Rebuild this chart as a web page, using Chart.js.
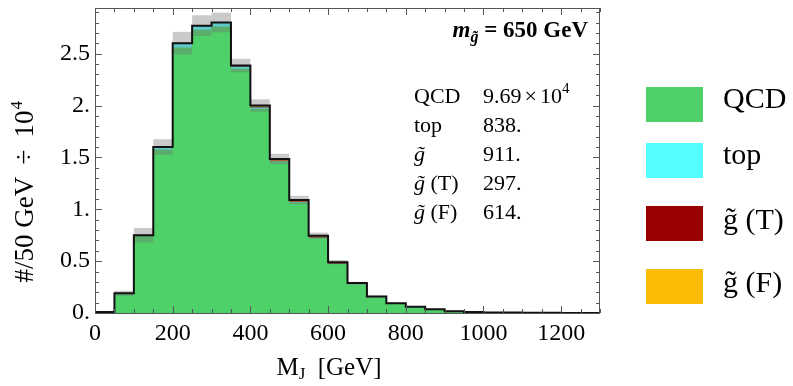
<!DOCTYPE html>
<html>
<head>
<meta charset="utf-8">
<script src="https://cdn.jsdelivr.net/npm/chart.js@4.4.0/dist/chart.umd.min.js"></script>
<style>
body { margin: 0; background: #fff; }
#caixa { width: 793px; height: 386px; }
</style>
</head>
<body>
<div id="caixa"><canvas id="grafico"></canvas></div>
<script>
// bins of 50 GeV in M_J (start of each bin)
const binStart = [0, 50, 100, 150, 200, 250, 300, 350, 400, 450, 500, 550, 600,
                  650, 700, 750, 800, 850, 900, 950, 1000, 1050, 1100, 1150, 1200, 1250];
const binWidth = 50;

// events / 50 GeV, in units of 10^4
const qcdValues = [0.010, 0.190, 0.738, 1.572, 2.555, 2.726, 2.758, 2.352, 1.966, 1.452, 1.060, 0.720, 0.469,
                   0.272, 0.148, 0.084, 0.054, 0.032, 0.016, 0.009, 0.006, 0.004, 0.003, 0.002, 0.001, 0.001];
const topValues = [0, 0, 0.012, 0.028, 0.045, 0.040, 0.035, 0.020, 0.012, 0.007, 0.005, 0.003, 0.002,
                   0.001, 0, 0, 0, 0, 0, 0, 0, 0, 0, 0, 0, 0];
const gluinoT = [0, 0, 0, 0, 0, 0.002, 0.003, 0.005, 0.007, 0.008, 0.008, 0.008, 0.007,
                 0.005, 0.004, 0.003, 0.002, 0.001, 0, 0, 0, 0, 0, 0, 0, 0];
const gluinoF = [0, 0, 0, 0, 0, 0.002, 0.004, 0.008, 0.015, 0.018, 0.017, 0.014, 0.012,
                 0.010, 0.008, 0.006, 0.004, 0.003, 0.002, 0.001, 0, 0, 0, 0, 0, 0];
// half width of the grey band
const errValues = [0.005, 0.025, 0.070, 0.075, 0.110, 0.100, 0.095, 0.065, 0.060, 0.050, 0.040, 0.030, 0.020,
                   0.012, 0.008, 0.006, 0.004, 0.003, 0.002, 0.001, 0.001, 0.001, 0.001, 0.001, 0.001, 0.001];

const seriesNames = ['QCD', 'top', 'g\u0303 (T)', 'g\u0303 (F)'];
const seriesColors = ['#4dd168', '#55ffff', '#990000', '#fbbc05'];

const xTicks = [0, 200, 400, 600, 800, 1000, 1200];
const yTicks = [0, 0.5, 1, 1.5, 2, 2.5];

const tableNames = ['QCD', 'top', 'g\u0303', 'g\u0303 (T)', 'g\u0303 (F)'];
const tableValues = ['9.69', '838.', '911.', '297.', '614.'];

const serif = '"Liberation Serif", "Times New Roman", serif';

const total = binStart.map((b, i) => qcdValues[i] + topValues[i] + gluinoT[i] + gluinoF[i]);

function barData(vals) {
    return binStart.map((b, i) => ({ x: b + binWidth / 2, y: vals[i] }));
}

const outline = binStart.map((b, i) => ({ x: b, y: total[i] }));
outline.push({ x: binStart[binStart.length - 1] + binWidth, y: total[total.length - 1] });

const band = binStart.map((b, i) => ({ x: b + binWidth / 2, y: [total[i] - errValues[i], total[i] + errValues[i]] }));

function txt(ctx, s, x, y, font) {
    ctx.font = font;
    ctx.fillText(s, x, y);
    return ctx.measureText(s).width;
}

const moldura = {
    id: 'moldura',
    afterDraw(chart) {
        const ctx = chart.ctx;
        const a = chart.chartArea;
        const xs = chart.scales.x;
        const ys = chart.scales.y;
        ctx.save();
        ctx.strokeStyle = '#555';
        ctx.lineWidth = 1;
        ctx.beginPath();
        for (let v = 0; v <= 1300; v += 50) {
            const px = Math.round(xs.getPixelForValue(v)) + 0.5;
            const len = v % 200 == 0 ? 7 : 4;
            ctx.moveTo(px, a.bottom); ctx.lineTo(px, a.bottom - len);
            ctx.moveTo(px, a.top); ctx.lineTo(px, a.top + len);
        }
        for (let i = 0; i <= 29; i++) {
            const py = Math.round(ys.getPixelForValue(i / 10)) + 0.5;
            const len = i % 5 == 0 ? 7 : 4;
            ctx.moveTo(a.left, py); ctx.lineTo(a.left + len, py);
            ctx.moveTo(a.right, py); ctx.lineTo(a.right - len, py);
        }
        ctx.stroke();
        ctx.strokeRect(Math.round(a.left) + 0.5, Math.round(a.top) + 0.5,
                       Math.round(a.right - a.left) - 1, Math.round(a.bottom - a.top));

        ctx.fillStyle = '#000';
        ctx.textAlign = 'left';
        ctx.textBaseline = 'alphabetic';

        // y title
        ctx.save();
        ctx.translate(33, 191);
        ctx.rotate(-Math.PI / 2);
        ctx.font = '27px ' + serif;
        const t1 = '#/50 GeV \u2009\u00f7\u2009 10';
        const w1 = ctx.measureText(t1).width;
        const x0 = -(w1 + 11) / 2;
        txt(ctx, t1, x0, 0, '27px ' + serif);
        txt(ctx, '4', x0 + w1 + 1, -11, '17px ' + serif);
        ctx.restore();

        // x title
        ctx.font = '25px ' + serif;
        let wM = ctx.measureText('M').width;
        ctx.font = '17px ' + serif;
        let wJ = ctx.measureText('J').width;
        ctx.font = '25px ' + serif;
        let wG = ctx.measureText('  [GeV]').width;
        let xx = 329 - (wM + wJ + wG) / 2;
        xx += txt(ctx, 'M', xx, 375, '25px ' + serif);
        xx += txt(ctx, 'J', xx, 379, '17px ' + serif);
        txt(ctx, '  [GeV]', xx, 375, '25px ' + serif);

        // mass label
        ctx.font = 'bold 23px ' + serif;
        const wEq = ctx.measureText(' = 650 GeV').width;
        ctx.font = 'italic bold 16px ' + serif;
        const wSub = ctx.measureText('g\u0303').width;
        ctx.font = 'italic bold 23px ' + serif;
        const wm = ctx.measureText('m').width;
        let mx = 588 - wEq - wSub - wm;
        mx += txt(ctx, 'm', mx, 37, 'italic bold 23px ' + serif);
        mx += txt(ctx, 'g\u0303', mx, 42, 'italic bold 16px ' + serif);
        txt(ctx, ' = 650 GeV', mx, 37, 'bold 23px ' + serif);

        // yields table
        for (let i = 0; i < tableNames.length; i++) {
            const by = 103 + 29 * i;
            const nm = tableNames[i];
            if (nm.startsWith('g')) {
                let gx = 414 + txt(ctx, 'g\u0303', 414, by, 'italic 22px ' + serif);
                txt(ctx, nm.slice(2), gx, by, '22px ' + serif);
            } else {
                txt(ctx, nm, 414, by, '22px ' + serif);
            }
            let vx = 483 + txt(ctx, tableValues[i], 483, by, '22px ' + serif);
            if (i == 0) {
                vx += txt(ctx, '\u00d7', vx + 3, by, '22px ' + serif) + 6;
                vx += txt(ctx, '10', vx, by, '22px ' + serif);
                txt(ctx, '4', vx, by - 10, '15px ' + serif);
            }
        }

        // legend
        const boxTop = [87, 143, 206, 269];
        const textBase = [108, 164, 229, 292];
        for (let i = 0; i < seriesNames.length; i++) {
            ctx.fillStyle = seriesColors[i];
            ctx.fillRect(646, boxTop[i], 57, 35);
            ctx.fillStyle = '#000';
            txt(ctx, seriesNames[i], 723, textBase[i], '30px ' + serif);
        }
        ctx.restore();
    }
};

const datasets = [];
const seriesVals = [qcdValues, topValues, gluinoT, gluinoF];
for (let i = 0; i < seriesVals.length; i++) {
    datasets.push({
        type: 'bar',
        label: seriesNames[i],
        data: barData(seriesVals[i]),
        backgroundColor: seriesColors[i],
        borderWidth: 0,
        stack: 'main',
        barPercentage: 1,
        categoryPercentage: 1
    });
}
datasets.push({
    type: 'bar',
    label: 'erro',
    data: band,
    backgroundColor: 'rgba(115,115,115,0.38)',
    borderWidth: 0,
    stack: 'erro',
    grouped: false,
    inflateAmount: 0,
    barPercentage: 1,
    categoryPercentage: 1,
    order: -1
});
datasets.push({
    type: 'line',
    label: 'total',
    data: outline,
    stepped: true,
    borderColor: '#111',
    borderWidth: 2,
    pointRadius: 0,
    fill: false,
    order: -2
});

new Chart(document.getElementById('grafico'), {
    data: { datasets: datasets },
    options: {
        responsive: true,
        maintainAspectRatio: false,
        animation: false,
        layout: { padding: { left: 0, right: 193, top: 8, bottom: 0 } },
        plugins: { legend: { display: false }, tooltip: { enabled: false } },
        scales: {
            x: {
                type: 'linear',
                min: 0,
                max: 1300,
                offset: false,
                grid: { display: false, drawTicks: false },
                border: { display: false },
                afterBuildTicks: (s) => { s.ticks = xTicks.map(v => ({ value: v })); },
                afterFit: (s) => { s.height = 73; s.paddingLeft = 0; s.paddingRight = 0; },
                ticks: { padding: 6, color: '#000', font: { family: serif, size: 24 }, maxRotation: 0,
                         callback: (v) => String(v) }
            },
            y: {
                type: 'linear',
                min: 0,
                max: 2.94,
                stacked: true,
                grid: { display: false, drawTicks: false },
                border: { display: false },
                afterBuildTicks: (s) => { s.ticks = yTicks.map(v => ({ value: v })); },
                afterFit: (s) => { s.width = 95; s.paddingTop = 0; s.paddingBottom = 0; },
                ticks: { padding: 5, color: '#000', font: { family: serif, size: 24 },
                         callback: (v) => Number.isInteger(v) ? v + '.' : String(v) }
            }
        }
    },
    plugins: [moldura]
});
</script>
</body>
</html>
